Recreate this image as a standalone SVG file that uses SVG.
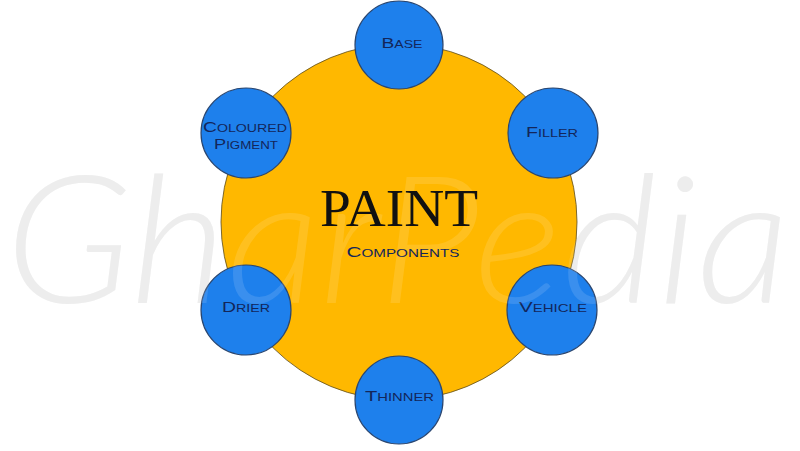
<svg xmlns="http://www.w3.org/2000/svg" width="800" height="451" viewBox="0 0 800 451">
<style>
.hub{fill:#FFB800;stroke:#5a4a1a;stroke-width:0.8}
.node{fill:#1E80EC;stroke:#2a4670;stroke-width:1.2}
.lbl{font-family:"Liberation Sans",Arial,sans-serif;font-size:11px;fill:#13265a;text-anchor:middle}
.cap{font-size:15px}
.title{font-family:"Liberation Serif","Times New Roman",serif;font-size:53px;fill:#111;text-anchor:middle}
.wm{font-family:Lato,"Open Sans",sans-serif;font-weight:300;font-style:italic;font-size:178px}
</style>
<defs>
<text id="wm" class="wm" x="5" y="303" textLength="785" lengthAdjust="spacingAndGlyphs">GharPedia</text>
</defs>
<rect width="800" height="451" fill="#ffffff"/>
<use href="#wm" fill="#ebebeb"/>
<g id="connectors"/>
<g id="paint">
<circle class="hub" cx="399" cy="222" r="178"/>
</g>
<g id="base">
<circle class="node" cx="399" cy="45" r="44"/>
<text class="lbl" x="402" y="48" textLength="41" lengthAdjust="spacingAndGlyphs"><tspan class="cap">B</tspan>ASE</text>
</g>
<g id="filler">
<circle class="node" cx="553" cy="133" r="45"/>
<text class="lbl" x="552" y="137" textLength="52" lengthAdjust="spacingAndGlyphs"><tspan class="cap">F</tspan>ILLER</text>
</g>
<g id="vehicle">
<circle class="node" cx="552" cy="310" r="45"/>
<text class="lbl" x="553" y="312" textLength="68" lengthAdjust="spacingAndGlyphs"><tspan class="cap">V</tspan>EHICLE</text>
</g>
<g id="thinner">
<circle class="node" cx="399" cy="400" r="44"/>
<text class="lbl" x="399.5" y="401" textLength="69" lengthAdjust="spacingAndGlyphs"><tspan class="cap">T</tspan>HINNER</text>
</g>
<g id="drier">
<circle class="node" cx="246" cy="310" r="45"/>
<text class="lbl" x="246" y="312" textLength="48" lengthAdjust="spacingAndGlyphs"><tspan class="cap">D</tspan>RIER</text>
</g>
<g id="coloured-pigment">
<circle class="node" cx="246" cy="133" r="45"/>
<text class="lbl" x="245" y="132" textLength="84" lengthAdjust="spacingAndGlyphs"><tspan class="cap">C</tspan>OLOURED</text>
<text class="lbl" x="246" y="149" textLength="64" lengthAdjust="spacingAndGlyphs"><tspan class="cap">P</tspan>IGMENT</text>
</g>
<use href="#wm" fill="#ffffff" opacity="0.12"/>
<g id="paint-text">
<text class="title" x="399" y="226" textLength="158" lengthAdjust="spacingAndGlyphs">PAINT</text>
<text class="lbl" x="403" y="257" textLength="113" lengthAdjust="spacingAndGlyphs"><tspan class="cap">C</tspan>OMPONENTS</text>
</g>
</svg>
